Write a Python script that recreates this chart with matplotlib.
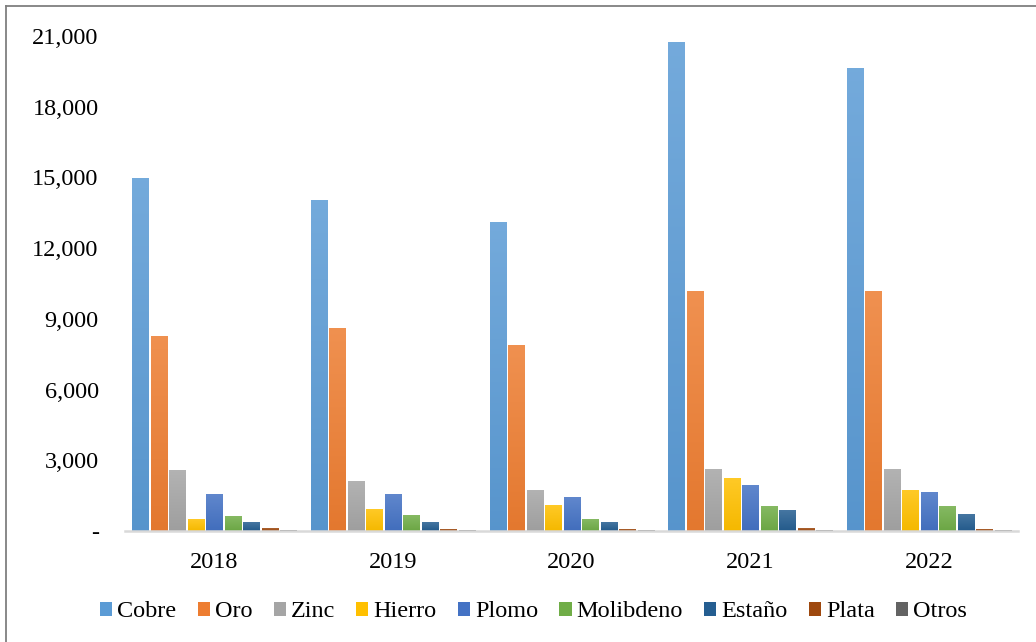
import numpy as np
import matplotlib
matplotlib.use('Agg')
import matplotlib.pyplot as plt
from matplotlib.colors import to_rgb
from matplotlib.lines import Line2D
from matplotlib.patches import Patch

years = ['2018', '2019', '2020', '2021', '2022']
minerals = ['Cobre', 'Oro', 'Zinc', 'Hierro', 'Plomo', 'Molibdeno', 'Estaño', 'Plata', 'Otros']

cobre = [14970, 14040, 13070, 20740, 19640]
oro = [8270, 8610, 7850, 10140, 10140]
zinc = [2550, 2080, 1700, 2590, 2630]
hierro = [470, 930, 1100, 2210, 1700]
plomo = [1530, 1530, 1440, 1910, 1650]
molibdeno = [600, 640, 470, 1060, 1020]
estano = [340, 340, 340, 850, 720]
plata = [90, 50, 50, 90, 50]
otros = [20, 20, 20, 20, 15]

series = [cobre, oro, zinc, hierro, plomo, molibdeno, estano, plata, otros]
colors = ['#5b9bd5', '#ed7d31', '#a5a5a5', '#ffc000', '#4472c4',
          '#70ad47', '#255e91', '#9e480e', '#636363']


def lighten(c, f):
    r = np.array(to_rgb(c))
    return r + (1 - r) * f


def darken(c, f):
    return np.array(to_rgb(c)) * (1 - f)


plt.rcParams['font.family'] = ['Liberation Serif', 'DejaVu Serif']
fsize = 17.5

fig = plt.figure(figsize=(10.36, 6.42), dpi=100)
ax = fig.add_axes([0.1207, 0.1729, 0.862, 0.771])

x = np.arange(len(years))
step = 0.1036
width = 0.0896
for i, (vals, col) in enumerate(zip(series, colors)):
    offs = (i - (len(series) - 1) / 2) * step
    bars = ax.bar(x + offs, vals, width, color=col, zorder=2)
    # excel style vertical gradient, lighter on top
    top = lighten(col, 0.15)
    bot = darken(col, 0.04)
    grad = np.linspace(0, 1, 64)[:, None, None]
    img = top * (1 - grad) + bot * grad
    for b in bars:
        bx, by = b.get_x(), b.get_y()
        bw, bh = b.get_width(), b.get_height()
        ax.imshow(img, extent=[bx, bx + bw, by, by + bh], aspect='auto',
                  origin='upper', zorder=3, interpolation='bilinear')

ax.set_xlim(-0.5, len(years) - 0.5)
ax.set_ylim(0, 21000)
ax.set_yticks(np.arange(0, 21001, 3000))
ax.set_yticklabels(['-'] + [f'{v:,}' for v in range(3000, 21001, 3000)])
ax.set_xticks(x)
ax.set_xticklabels(years)
ax.tick_params(axis='y', length=0, pad=19, labelsize=fsize)
ax.tick_params(axis='x', length=0, pad=15, labelsize=fsize)
for s in ['top', 'right', 'left']:
    ax.spines[s].set_visible(False)
ax.spines['bottom'].set_color('#d9d9d9')
ax.spines['bottom'].set_linewidth(1.8)
ax.spines['bottom'].set_zorder(4)

handles = [Patch(facecolor=c, edgecolor='none') for c in colors]
fig.legend(handles, minerals, loc='center', bbox_to_anchor=(0.515, 0.047), ncol=9,
           frameon=False, fontsize=fsize, handlelength=0.5, handleheight=0.5,
           handletextpad=0.2, columnspacing=0.88)

# outer frame (top and left edges visible)
fig.add_artist(Line2D([0.006, 1.0], [0.991, 0.991], color='#7f7f7f', lw=1.3,
                      transform=fig.transFigure))
fig.add_artist(Line2D([0.006, 0.006], [0.0, 0.991], color='#7f7f7f', lw=1.3,
                      transform=fig.transFigure))

fig.savefig('out.png', dpi=100)
